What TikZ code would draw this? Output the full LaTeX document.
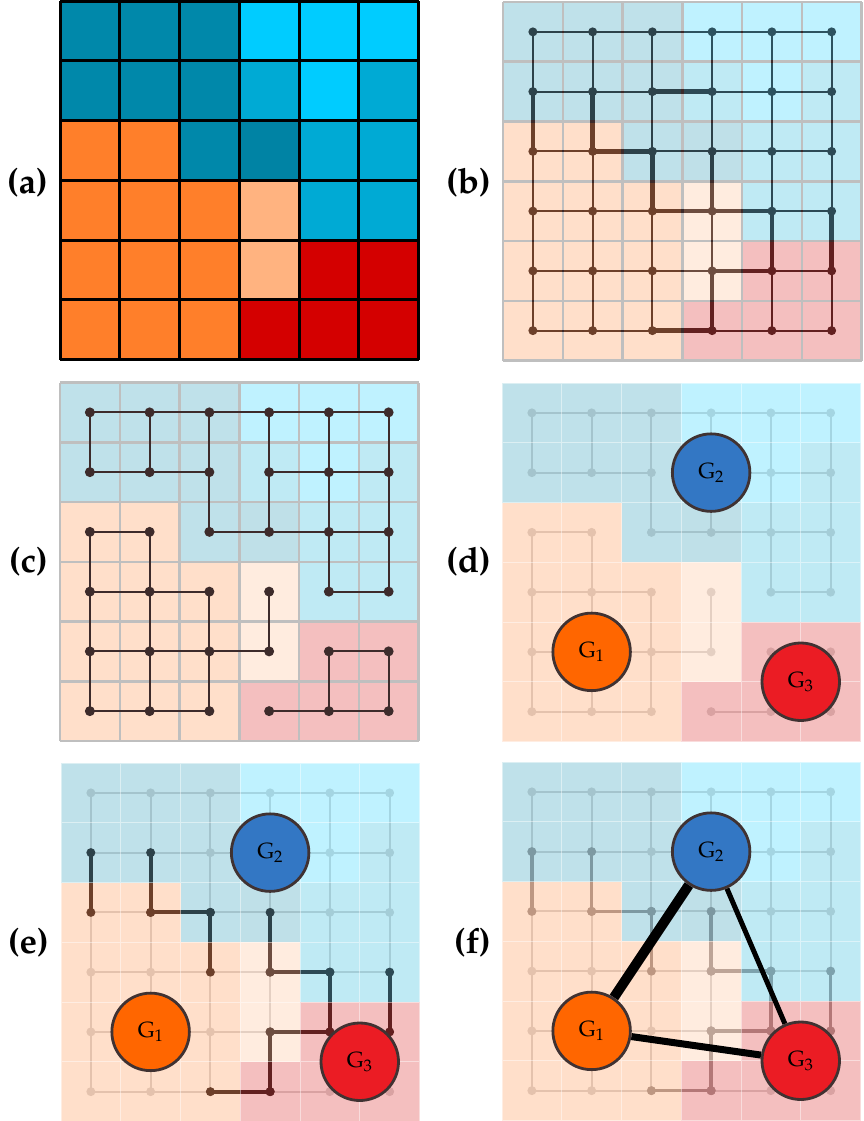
\documentclass[tikz,border=0pt]{standalone}
\usepackage[T1]{fontenc}
\usepackage{mathpazo}
\pgfdeclarelayer{front}
\pgfsetlayers{main,front}
\definecolor{cT}{RGB}{0,136,170}
\definecolor{cTd}{RGB}{0,131,164}
\definecolor{cC}{RGB}{0,204,255}
\definecolor{cM}{RGB}{0,170,212}
\definecolor{cO}{RGB}{255,127,42}
\definecolor{cL}{RGB}{255,179,128}
\definecolor{cR}{RGB}{212,0,0}
\definecolor{gdark}{RGB}{61,43,43}
\definecolor{gborder}{RGB}{64,50,50}
\definecolor{gridgrey}{RGB}{191,191,191}
\definecolor{gone}{RGB}{255,102,0}
\definecolor{gtwo}{RGB}{51,119,196}
\definecolor{gthree}{RGB}{235,28,36}
\colorlet{faint}{gdark!18!white}
\colorlet{medium}{gdark!45!white}
\newcommand\pal{\fontencoding{T1}\fontfamily{ppl}\selectfont}

\tikzset{
  lab/.style={font=\pal\fontsize{35}{40}\selectfont\bfseries, inner sep=0pt, anchor=east},
  gnode/.style={circle, draw=gborder, line width=2.8pt, minimum size=77.5pt, inner sep=0pt,
                font=\pal\fontsize{22}{24}\selectfont},
  gedge/.style={black, line cap=butt},
  seam/.style={white, opacity=0.45, line width=0.8pt, step=59.75pt},
  greygrid/.style={gridgrey, line width=2.5pt, step=59.75pt},
  panel/.style={x=59.75pt, y=-59.75pt}
}

\def\cgraphedges{0/0/0/1,0/1/0/2,0/2/0/3,0/3/0/4,0/4/0/5,
1/0/1/1,1/1/1/2,1/3/1/4,1/4/1/5,
2/0/2/1,2/2/2/3,2/3/2/4,2/4/2/5,
3/0/3/1,3/1/3/2,3/4/3/5,
4/0/4/1,4/1/4/2,4/2/4/3,4/4/4/5,
5/0/5/1,5/1/5/2,5/3/5/4,5/4/5/5,
0/0/1/0,0/1/1/1,0/2/1/2,0/3/1/3,0/4/1/4,0/5/1/5,
1/2/2/2,1/3/2/3,1/4/2/4,1/5/2/5,
2/0/3/0,2/1/3/1,2/4/3/4,2/5/3/5,
3/0/4/0,3/1/4/1,3/2/4/2,3/3/4/3,
4/0/5/0,4/1/5/1,4/2/5/2,4/4/5/4,4/5/5/5}
\def\cutedges{1/2/1/3,2/1/2/2,3/2/3/3,3/3/3/4,4/3/4/4,5/2/5/3,
1/0/2/0,1/1/2/1,2/2/3/2,2/3/3/3,3/4/4/4,3/5/4/5,4/3/5/3}
\def\interedges{2/1/2/2,3/3/3/4,4/3/4/4,5/2/5/3,
1/0/2/0,1/1/2/1,2/2/3/2,2/3/3/3,3/4/4/4,3/5/4/5,4/3/5/3}

% #1 = fill options, #2 = inset
\newcommand\cellfills[2]{%
\foreach \rr/\cc/\col in {0/0/cT,0/1/cT,0/2/cT,0/3/cC,0/4/cC,0/5/cC,
1/0/cT,1/1/cT,1/2/cT,1/3/cM,1/4/cC,1/5/cM,
2/0/cO,2/1/cO,2/2/cT,2/3/cTd,2/4/cM,2/5/cM,
3/0/cO,3/1/cO,3/2/cO,3/3/cL,3/4/cM,3/5/cM,
4/0/cO,4/1/cO,4/2/cO,4/3/cL,4/4/cR,4/5/cR,
5/0/cO,5/1/cO,5/2/cO,5/3/cR,5/4/cR,5/5/cR}{%
\fill[fill=\col,#1] ([shift={(#2,-#2)}]\cc,\rr) rectangle ([shift={(-#2,#2)}]\cc+1,\rr+1);}}
\newcommand\mkcoords[1]{\foreach \rr in {0,...,5}{\foreach \cc in {0,...,5}{\coordinate (#1-\rr-\cc) at (\cc+0.5,\rr+0.5);}}}
\newcommand\lattice[2]{\foreach \rr in {0,...,5}{\foreach \cc [evaluate=\cc as \nn using int(\cc+1)] in {0,...,4}{%
  \draw[#2] (#1-\rr-\cc) -- (#1-\rr-\nn); \draw[#2] (#1-\cc-\rr) -- (#1-\nn-\rr);}}}
\newcommand\graphdots[3]{\foreach \rr in {0,...,5}{\foreach \cc in {0,...,5}{\fill[#2] (#1-\rr-\cc) circle[radius=#3];}}}
\newcommand\edgesfrom[3]{\foreach \ra/\ca/\rb/\cb in #2 {\draw[#3] (#1-\ra-\ca) -- (#1-\rb-\cb);}}
\newcommand\tipdots[4]{\foreach \ra/\ca/\rb/\cb in #2 {\fill[#3] (#1-\ra-\ca) circle[radius=#4]; \fill[#3] (#1-\rb-\cb) circle[radius=#4];}}

\begin{document}
\begin{tikzpicture}[x=1pt,y=-1pt]
\useasboundingbox (0,0) rectangle (863,1121);

% labels
\node[lab] (la) at (48,182.5) {(a)};
\node[lab] (lb) at (491,182.5) {(b)};
\node[lab] (lc) at (48,562) {(c)};
\node[lab] (ld) at (491,562) {(d)};
\node[lab] (le) at (49,942.5) {(e)};
\node[lab] (lf) at (491,942.5) {(f)};

% (a)
\begin{scope}[shift={(60pt,-1pt)}, panel]
  \cellfills{}{0pt}
  \draw[black, line width=3pt, step=59.75pt] (0,0) grid (6,6);
\end{scope}

% (b)
\begin{scope}[shift={(503pt,-2pt)}, panel]
  \mkcoords{b}
  \draw[greygrid] (0,0) grid (6,6);
  \lattice{b}{gdark, line width=2pt}
  \edgesfrom{b}{\cutedges}{gdark, line width=4.5pt}
  \graphdots{b}{gdark}{4.5pt}
  \cellfills{fill opacity=0.25}{1.25pt}
\end{scope}

% (c)
\begin{scope}[shift={(60pt,-382.5pt)}, panel]
  \mkcoords{c}
  \cellfills{fill opacity=0.25}{1.25pt}
  \draw[greygrid] (0,0) grid (6,6);
  \edgesfrom{c}{\cgraphedges}{gdark, line width=2pt}
  \graphdots{c}{gdark}{5pt}
\end{scope}

% (d)
\begin{scope}[shift={(502pt,-383pt)}, panel]
  \mkcoords{d}
  \edgesfrom{d}{\cgraphedges}{faint, line width=2pt}
  \graphdots{d}{faint}{4.5pt}
  \cellfills{fill opacity=0.25}{0pt}
  \draw[seam] (0,0) grid (6,6);
  \node[gnode, fill=gone] (dG1) at (d-4-1) {G\textsubscript{1}};
  \node[gnode, fill=gtwo] (dG2) at (d-1-3) {G\textsubscript{2}};
  \node[gnode, fill=gthree] (dG3) at (5,5) {G\textsubscript{3}};
\end{scope}

% (e)
\begin{scope}[shift={(61pt,-763pt)}, panel]
  \mkcoords{e}
  \lattice{e}{faint, line width=2pt}
  \graphdots{e}{faint}{4.5pt}
  \edgesfrom{e}{\interedges}{gdark, line width=4pt}
  \tipdots{e}{\interedges}{gdark}{4.5pt}
  \cellfills{fill opacity=0.25}{0pt}
  \draw[seam] (0,0) grid (6,6);
  \node[gnode, fill=gone] (eG1) at (e-4-1) {G\textsubscript{1}};
  \node[gnode, fill=gtwo] (eG2) at (e-1-3) {G\textsubscript{2}};
  \node[gnode, fill=gthree] (eG3) at (5,5) {G\textsubscript{3}};
\end{scope}

% (f)
\begin{scope}[shift={(502pt,-762pt)}, panel]
  \mkcoords{f}
  \lattice{f}{faint, line width=2pt}
  \graphdots{f}{faint}{4.5pt}
  \edgesfrom{f}{\interedges}{medium, line width=3.5pt}
  \tipdots{f}{\interedges}{medium}{4.5pt}
  \cellfills{fill opacity=0.25}{0pt}
  \draw[seam] (0,0) grid (6,6);
  \begin{pgfonlayer}{front}
  \node[gnode, fill=gone] (fG1) at (f-4-1) {G\textsubscript{1}};
  \node[gnode, fill=gtwo] (fG2) at (f-1-3) {G\textsubscript{2}};
  \node[gnode, fill=gthree] (fG3) at (5,5) {G\textsubscript{3}};
  \end{pgfonlayer}
  \draw[gedge, line width=10pt] (fG1) -- (fG2);
  \draw[gedge, line width=7pt] (fG1) -- (fG3);
  \draw[gedge, line width=5pt] (fG2) -- (fG3);
\end{scope}
\end{tikzpicture}
\end{document}
